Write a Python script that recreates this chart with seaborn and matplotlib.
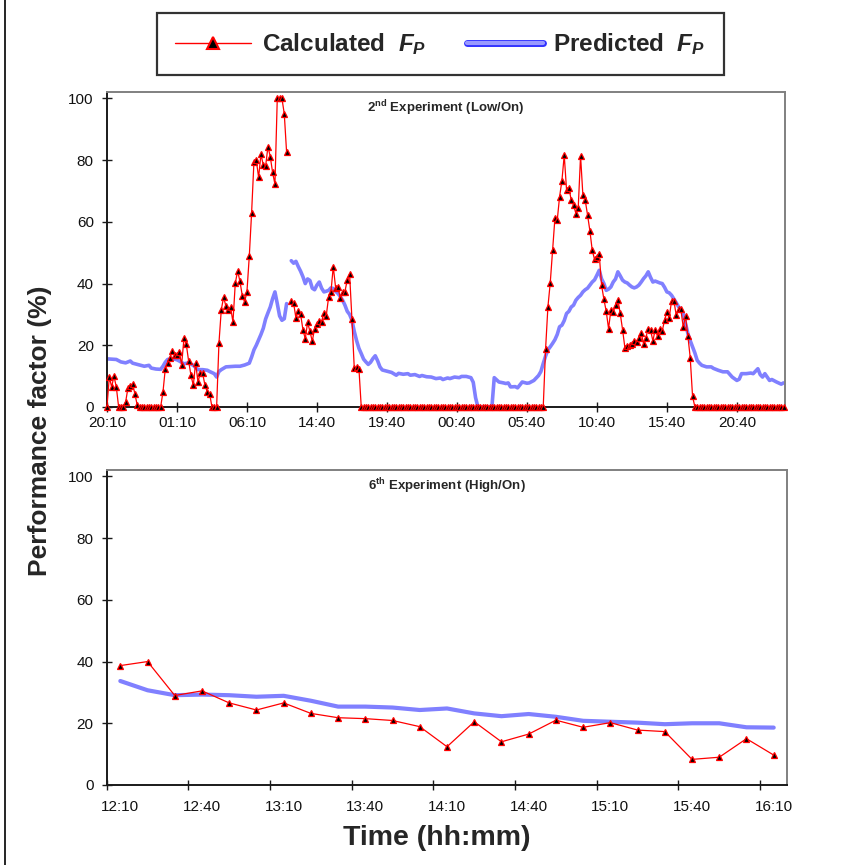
import numpy as np
import pandas as pd
import matplotlib
matplotlib.use("Agg")
import matplotlib.pyplot as plt
import matplotlib.patheffects as pe
from matplotlib.lines import Line2D
import seaborn as sns

# ---------------- 2nd experiment (Low/On), 10-minute samples ----------------
top_tick_labels = ["20:10", "01:10", "06:10", "14:40", "19:40",
                   "00:40", "05:40", "10:40", "15:40", "20:40"]

calc_top = (
    [0, 9.7, 6.5, 10, 6.5, 0, 0, 0, 1.6, 6.2, 6.7, 7.6, 4.1, 0.5]
    + [0.0] * 10
    + [4.8, 12.4, 14.3, 15.9, 18, 17, 17, 17.8, 13.7, 22.2, 20.3, 14.9,
       10.3, 7, 14.3, 8.1, 11, 11, 7, 4.9, 4.3, 0, 0, 0,
       20.7, 31.5, 35.6, 32.6, 31.5, 32.3, 27.5, 40.1, 44.1, 40.7, 36.1,
       34, 37.4, 48.8, 63, 79.5, 80, 74.4, 81.9, 78.4, 78, 84.4, 81.1,
       76, 72.2, 100, 100, 100, 95, 82.5,
       np.nan,
       34.4, 33.7, 28.8, 31.2, 30.1, 25, 22.1, 27.4, 24.5, 21.3, 25.4,
       27, 27.9, 27.7, 30.6, 29.6, 35.6, 37.2, 45.5, 38.7, 39, 35.3, 37.2,
       37.4, 41.2, 43.1, 28.5, 12.6, 12.9, 12.4]
    + [0.0] * 79
    + [18.7, 32.4, 40.2, 50.8, 61.1, 60.5, 68.1, 73.3, 81.6, 70.3, 71.1,
       67, 65.4, 62.7, 64.6, 81.4, 68.6, 67, 62.2, 57.1, 50.8, 47.8, 48.6,
       49.5, 39.5, 34.9, 31, 25.4, 31.4, 30.8, 33, 34.8, 30.3, 25.1, 19.2,
       19.7, 20.2, 20.3, 21.4, 20.9, 22.2, 24, 20.5, 22.5, 25.4, 24.9,
       21.4, 25.1, 22.9, 25.4, 24.6, 28.1, 30.8, 28.9, 34.4, 34.4, 29.8,
       31.6, 31.6, 25.9, 29.4, 23, 16, 3.5]
    + [0.0] * 39
)

pred_top_idx = [
    0, 2, 4, 6, 8, 10, 11, 13, 16, 18, 19, 21, 23, 24, 25, 26, 28, 30, 31,
    33, 35, 37, 39, 41, 43, 44, 46, 47, 48, 49, 51, 53, 55, 57, 59, 61, 62,
    63, 64, 66, 67, 68, 69, 70, 71, 72, 73, 74, 75, 76, 77,
    79, 80, 81, 82, 83, 84, 85, 86, 87, 88, 89, 90, 91, 92, 93, 94, 95, 96,
    97, 98, 99, 100, 101, 102, 103, 104, 105, 106, 107, 108, 109, 110, 111,
    112, 113, 114, 115, 116, 117, 118, 119, 120, 122, 124, 125, 127, 129,
    130, 132, 134, 135, 137, 139, 141, 143, 144, 146, 147, 149, 151, 152,
    154, 156, 157, 158, 159, 165, 166, 167, 168, 170, 171, 172, 173, 175,
    176, 178, 180, 181, 183, 185, 186, 187, 188, 189, 190, 191, 192, 193,
    194, 195, 196, 197, 198, 199, 200, 201, 202, 203, 204, 205, 206, 207,
    208, 209, 210, 211, 212, 213, 214, 215, 216, 217, 218, 219, 220, 221,
    222, 223, 224, 225, 226, 227, 228, 229, 230, 231, 232, 233, 234, 235,
    236, 237, 238, 239, 240, 241, 242, 243, 244, 245, 246, 247, 248, 249,
    250, 251, 252, 253, 254, 255, 257, 259, 260, 262, 264, 266, 268, 270,
    271, 272, 274, 276, 277, 279, 280, 281, 282, 284, 285, 287, 289, 290,
]
pred_top_val = [
    15.6, 15.5, 15.4, 14.6, 14.3, 14.9, 14.2, 13.8, 13.2, 13.5, 12.6, 12.3,
    12.2, 13.2, 14.5, 15.4, 15.7, 15.3, 14.9, 14.0, 14.3, 13.5, 12.1, 12.1,
    11.9, 11.5, 10.8, 9.7, 11.5, 12.1, 13.0, 13.1, 13.2, 13.2, 13.6, 14.2,
    16.2, 18.5, 20.0, 23.5, 25.5, 28.5, 30.5, 32.4, 35.1, 37.3, 33.5, 29.5,
    28.1, 28.6, 33.5,
    47.4, 46.6, 47.2, 45.5, 44.0, 42.2, 40.0, 41.5, 41.0, 38.5, 38.0, 39.5,
    40.5, 38.5, 37.3, 37.5, 37.8, 38.6, 38.4, 37.5, 36.8, 35.8, 34.6, 33.0,
    31.0, 30.0, 28.1, 24.5, 21.5, 19.0, 17.3, 15.5, 14.6, 13.8, 14.5, 15.7,
    16.6, 15.0, 13.0, 12.0, 11.8, 11.6, 11.2, 10.3, 10.9, 10.6, 10.8, 10.3,
    10.5, 9.9, 10.2, 9.8, 9.7, 9.2, 9.4, 8.9, 9.4, 9.2, 9.7, 9.5, 9.9, 9.9,
    9.5, 8.0, 3.0, 0.0, 0.0, 9.5, 8.8, 8.1, 7.8, 7.6, 7.8, 6.5, 6.6, 6.2,
    8.1, 7.7, 7.8, 8.6, 10.2, 11.5, 14.1, 16.5, 18.5, 19.5, 20.6, 21.8,
    23.5, 26.0, 26.5, 28.0, 30.3, 31.0, 32.4, 33.0, 34.6, 35.5, 36.2, 37.3,
    38.0, 38.5, 39.5, 40.5, 41.2, 42.7, 44.3, 41.5, 40.0, 37.8, 38.2, 38.9,
    40.5, 41.5, 43.8, 42.5, 41.1, 40.5, 40.2, 39.5, 38.9, 38.6, 38.9, 39.5,
    40.5, 41.6, 42.5, 43.8, 42.0, 40.5, 40.8, 40.5, 40.2, 40.0, 38.8, 37.3,
    37.0, 36.2, 35.0, 33.8, 32.5, 31.5, 30.3, 27.0, 23.8, 21.5, 19.5, 17.5,
    15.1, 14.2, 13.5, 13.0, 13.0, 12.5, 11.9, 11.4, 11.4, 9.7, 8.6, 9.0,
    10.8, 10.8, 11.0, 10.8, 12.4, 10.5, 9.7, 10.8, 8.6, 8.9, 8.1, 7.4, 7.8,
]

# ---------------- 6th experiment (High/On), 10-minute samples ----------------
bottom_tick_labels = ["12:10", "12:40", "13:10", "13:40", "14:10",
                      "14:40", "15:10", "15:40", "16:10"]
calc_bottom = [38.7, 40.0, 29.0, 30.5, 26.6, 24.3, 26.6, 23.2, 21.8, 21.5,
               20.9, 18.9, 12.4, 20.5, 14.0, 16.5, 21.0, 18.7, 20.2, 17.8,
               17.3, 8.3, 9.0, 15.0, 9.7]
pred_bottom = [33.7, 30.7, 29.1, 29.3, 29.1, 28.6, 28.9, 27.3, 25.4, 25.4,
               25.1, 24.3, 24.8, 23.2, 22.3, 23.0, 22.1, 20.8, 20.5, 20.2,
               19.7, 20.0, 20.0, 18.7, 18.6]

RED = "#ff0000"
BLUE = "#8080ff"

sns.set_theme(style="white")
plt.rcParams["font.family"] = ["Liberation Sans", "DejaVu Sans"]
plt.rcParams["mathtext.fontset"] = "custom"
plt.rcParams["mathtext.rm"] = "Liberation Sans:bold"
plt.rcParams["mathtext.it"] = "Liberation Sans:italic:bold"
plt.rcParams["mathtext.bf"] = "Liberation Sans:bold"

fig = plt.figure(figsize=(8.53, 8.65), dpi=100)
ax1 = fig.add_axes([0.1254, 0.5295, 0.7948, 0.3642])
ax2 = fig.add_axes([0.1251, 0.0925, 0.7979, 0.3642])

# top panel data frames; segments keep the break in the record apart
calc_top_arr = np.array(calc_top, dtype=float)
idx_top = np.arange(len(calc_top_arr))
seg_calc = np.cumsum(np.isnan(calc_top_arr))
df_calc_top = pd.DataFrame({"idx": idx_top, "fp": calc_top_arr, "seg": seg_calc}).dropna()
df_pred_top = pd.DataFrame({"idx": pred_top_idx, "fp": pred_top_val})
df_pred_top["seg"] = (df_pred_top["idx"] > 78).astype(int)

sns.lineplot(data=df_pred_top, x="idx", y="fp", units="seg", estimator=None,
             color=BLUE, lw=2.6, ax=ax1, zorder=2)
sns.lineplot(data=df_calc_top, x="idx", y="fp", units="seg", estimator=None,
             color=RED, lw=0.9, marker="^", markersize=4.6,
             markerfacecolor="black", markeredgecolor=RED, markeredgewidth=0.9,
             ax=ax1, zorder=3, clip_on=False)

# bottom panel
df_bottom = pd.DataFrame({"idx": np.arange(len(calc_bottom)),
                          "calc": calc_bottom, "pred": pred_bottom})
sns.lineplot(data=df_bottom, x="idx", y="pred", color=BLUE, lw=3.0, ax=ax2, zorder=2)
sns.lineplot(data=df_bottom, x="idx", y="calc", color=RED, lw=0.9, marker="^",
             markersize=4.6, markerfacecolor="black", markeredgecolor=RED,
             markeredgewidth=0.9, ax=ax2, zorder=3)

for ax in (ax1, ax2):
    ax.set_ylim(0, 102.1)
    ax.set_yticks(np.arange(0, 101, 20))
    ax.set_xlabel("")
    ax.set_ylabel("")
    for side in ("left", "bottom"):
        ax.spines[side].set_color("#1a1a1a")
        ax.spines[side].set_linewidth(1.4)
    for side in ("top", "right"):
        ax.spines[side].set_color("#808080")
        ax.spines[side].set_linewidth(1.4)
    ax.tick_params(axis="both", which="major", direction="inout", length=7,
                   width=1.0, color="#1a1a1a", labelsize=11, pad=3,
                   labelcolor="#111111")
    ax.tick_params(axis="y", left=True, pad=6)
    ax.tick_params(axis="x", bottom=True)

ax1.set_xlim(0, 290.6)
ax1.set_xticks(np.arange(0, 300, 30))
ax1.set_xticklabels(top_tick_labels)

ax2.set_xlim(-0.5, 24.5)
ax2.set_xticks(np.arange(-0.5, 24, 3))
ax2.set_xticklabels([])
ax2.set_xticks(np.arange(0, 25, 3), minor=True)
ax2.set_xticklabels(bottom_tick_labels, minor=True)
ax2.tick_params(axis="x", which="minor", length=0, labelsize=11, pad=11,
                labelcolor="#111111")

ax1.text(0.5, 0.95, r"2$^{\mathrm{nd}}$ Experiment (Low/On)", transform=ax1.transAxes,
         ha="center", va="center", fontsize=9.5, fontweight="bold")
ax2.text(0.5, 0.95, r"6$^{\mathrm{th}}$ Experiment (High/On)", transform=ax2.transAxes,
         ha="center", va="center", fontsize=9.5, fontweight="bold")

fig.text(0.047, 0.502, "Performance factor (%)", rotation=90, ha="center",
         va="center", fontsize=19, fontweight="bold")
fig.text(0.512, 0.031, "Time (hh:mm)", ha="center", va="center",
         fontsize=20.5, fontweight="bold")

# legend across the top
h_calc = Line2D([], [], color=RED, lw=1.0, marker="^", markersize=8,
                markerfacecolor="black", markeredgecolor=RED, markeredgewidth=1.5)
h_pred = Line2D([], [], color="#9999ff", lw=3.0,
                path_effects=[pe.Stroke(linewidth=5, foreground="#3030ff"), pe.Normal()])
leg = fig.legend([h_calc, h_pred], [r"Calculated  $F_P$", r"Predicted  $F_P$"],
                 loc="upper center", bbox_to_anchor=(0.5164, 0.985), ncol=2,
                 frameon=True, fancybox=False, edgecolor="black",
                 prop={"weight": "bold", "size": 17.5}, handlelength=3.1,
                 handletextpad=0.45, columnspacing=1.7, borderpad=0.75,
                 borderaxespad=0.0)
leg.get_frame().set_linewidth(1.6)

# outer frame line on the left edge of the figure
fig.add_artist(Line2D([0.006, 0.006], [0, 1], transform=fig.transFigure,
                      color="black", lw=1.2))

fig.savefig("out.png", dpi=100, facecolor="white")
